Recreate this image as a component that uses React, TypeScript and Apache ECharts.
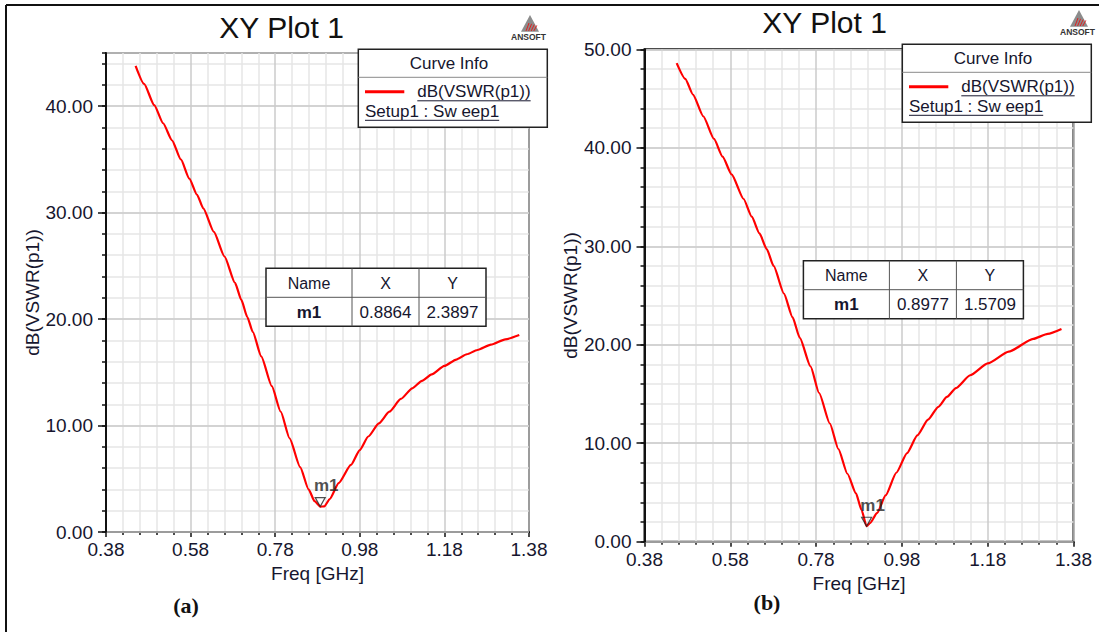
import React, { useEffect, useRef } from 'react';
import * as echarts from 'echarts';

// Sweep range and axis steps
const F_START = 0.38;
const F_END = 1.38;
const X_TICK_STEP = 0.2;
const X_MINOR_SPLIT = 5;
const Y_TICK_STEP = 10;
const Y_MINOR_STEP = 2;

const PANEL_TITLES = ['XY Plot 1', 'XY Plot 1'];
const PANEL_CAPTIONS = ['(a)', '(b)'];
const Y_MAX = [45, 50];
const Y_LABEL_VALUES = [
  [0, 10, 20, 30, 40],
  [0, 10, 20, 30, 40, 50],
];

const X_AXIS_NAME = 'Freq [GHz]';
const Y_AXIS_NAME = 'dB(VSWR(p1))';
const LEGEND_TITLE = 'Curve Info';
const TRACE_NAME = 'dB(VSWR(p1))';
const SWEEP_NAME = 'Setup1 : Sw eep1';
const TABLE_HEADERS = ['Name', 'X', 'Y'];
const MARKER_NAME = 'm1';

// Panel (a): dB(VSWR) vs frequency
const FREQ_A = [
  0.45, 0.47, 0.494, 0.515, 0.536, 0.557, 0.577, 0.595, 0.61, 0.635, 0.66, 0.685,
  0.7, 0.714, 0.727, 0.747, 0.772, 0.793, 0.814, 0.839, 0.859, 0.873, 0.8864, 0.896,
  0.909, 0.93, 0.959, 0.98, 1.0, 1.025, 1.05, 1.077, 1.104, 1.127, 1.15, 1.18,
  1.208, 1.233, 1.258, 1.29, 1.324, 1.357,
];
const DB_A = [
  43.8, 42.1, 40.1, 38.4, 36.8, 35.0, 33.2, 31.7, 30.4, 28.2, 25.9, 23.4,
  21.8, 20.2, 18.8, 16.5, 13.7, 11.3, 8.8, 6.1, 4.0, 2.9, 2.3897, 2.4,
  3.1, 4.6, 6.3, 7.7, 8.97, 10.2, 11.3, 12.5, 13.5, 14.2, 14.8, 15.6,
  16.2, 16.7, 17.1, 17.6, 18.1, 18.5,
];

// Panel (b): dB(VSWR) vs frequency
const FREQ_B = [
  0.455, 0.475, 0.493, 0.517, 0.542, 0.562, 0.583, 0.611, 0.63, 0.648, 0.665, 0.681,
  0.705, 0.725, 0.742, 0.767, 0.787, 0.812, 0.832, 0.853, 0.873, 0.886, 0.8977, 0.906,
  0.922, 0.942, 0.967, 0.992, 1.016, 1.041, 1.065, 1.085, 1.106, 1.139, 1.18, 1.229,
  1.286, 1.32, 1.352,
];
const DB_B = [
  48.6, 47.0, 45.4, 43.2, 40.9, 39.1, 37.3, 34.8, 33.0, 31.3, 29.7, 28.0,
  25.2, 22.8, 20.7, 17.8, 15.1, 12.0, 9.4, 6.9, 4.9, 3.2, 1.5709, 1.9,
  2.9, 4.7, 7.0, 9.0, 10.8, 12.4, 13.7, 14.7, 15.6, 16.9, 18.1, 19.3,
  20.6, 21.1, 21.6,
];

// Marker m1 readouts (freq, dB)
const MARKER_A = [0.8864, 2.3897];
const MARKER_B = [0.8977, 1.5709];

const FONT = '"Liberation Sans", Arial, sans-serif';
const SERIF = '"Liberation Serif", "Times New Roman", serif';
const INK = '#16162e';
const RED = '#ff0000';

// Layout of each panel in pixels
const PANELS = [
  {
    grid: { left: 106, top: 53, width: 423, height: 479 },
    title: [281.6, 27],
    caption: [186, 605],
    legend: [358.3, 49.3],
    table: [266, 268.3],
    logo: [530, 15],
    yNameGap: 62,
  },
  {
    grid: { left: 644.5, top: 49.3, width: 429, height: 492.4 },
    title: [824.6, 22],
    caption: [767, 602],
    legend: [902.3, 44.3],
    table: [803.4, 260.7],
    logo: [1079, 10],
    yNameGap: 55,
  },
];

function textWidth(text: string, font: string): number {
  const ctx = document.createElement('canvas').getContext('2d');
  if (!ctx) return text.length * 8;
  ctx.font = font;
  return ctx.measureText(text).width;
}

function label(text: string, x: number, y: number, size: number, opts: any = {}) {
  return {
    type: 'text',
    x,
    y,
    z: 20,
    silent: true,
    style: {
      text,
      fontSize: size,
      fontFamily: opts.family || FONT,
      fontWeight: opts.weight || 'normal',
      fill: opts.fill || INK,
      align: opts.align || 'center',
      verticalAlign: 'middle',
    },
  };
}

function legendBox(x0: number, y0: number) {
  const w = 189;
  const h = 78;
  const traceW = textWidth(TRACE_NAME, `17px ${FONT}`);
  const sweepW = textWidth(SWEEP_NAME, `17px ${FONT}`);
  return [
    { type: 'rect', z: 19, silent: true, shape: { x: x0, y: y0, width: w, height: h }, style: { fill: '#fff', stroke: '#222', lineWidth: 1.5 } },
    { type: 'line', z: 20, silent: true, shape: { x1: x0, y1: y0 + 28, x2: x0 + w, y2: y0 + 28 }, style: { stroke: '#8a8a8a', lineWidth: 1 } },
    label(LEGEND_TITLE, x0 + 90.7, y0 + 14, 17),
    { type: 'line', z: 20, silent: true, shape: { x1: x0 + 6.7, y1: y0 + 42.4, x2: x0 + 46, y2: y0 + 42.4 }, style: { stroke: RED, lineWidth: 3 } },
    label(TRACE_NAME, x0 + 59, y0 + 42, 17, { align: 'left' }),
    { type: 'line', z: 20, silent: true, shape: { x1: x0 + 59, y1: y0 + 51.5, x2: x0 + 59 + traceW, y2: y0 + 51.5 }, style: { stroke: INK, lineWidth: 1 } },
    label(SWEEP_NAME, x0 + 6.7, y0 + 62.4, 17, { align: 'left' }),
    { type: 'line', z: 20, silent: true, shape: { x1: x0 + 6.7, y1: y0 + 71, x2: x0 + 6.7 + sweepW, y2: y0 + 71 }, style: { stroke: INK, lineWidth: 1 } },
  ];
}

function markerTable(x0: number, y0: number, marker: number[]) {
  const cols = [0, 86, 153, 220];
  const h = 58;
  const mid = 29;
  const els: any[] = [
    { type: 'rect', z: 19, silent: true, shape: { x: x0, y: y0, width: cols[3], height: h }, style: { fill: '#fff', stroke: '#222', lineWidth: 1.5 } },
    { type: 'line', z: 20, silent: true, shape: { x1: x0, y1: y0 + mid, x2: x0 + cols[3], y2: y0 + mid }, style: { stroke: '#555', lineWidth: 1 } },
    { type: 'line', z: 20, silent: true, shape: { x1: x0 + cols[1], y1: y0, x2: x0 + cols[1], y2: y0 + h }, style: { stroke: '#555', lineWidth: 1 } },
    { type: 'line', z: 20, silent: true, shape: { x1: x0 + cols[2], y1: y0, x2: x0 + cols[2], y2: y0 + h }, style: { stroke: '#555', lineWidth: 1 } },
  ];
  const body = [MARKER_NAME, marker[0].toFixed(4), marker[1].toFixed(4)];
  for (let c = 0; c < 3; c++) {
    const cx = x0 + (cols[c] + cols[c + 1]) / 2;
    els.push(label(TABLE_HEADERS[c], cx, y0 + 15, 16));
    els.push(label(body[c], cx, y0 + 44, 17, { weight: c === 0 ? 'bold' : 'normal' }));
  }
  return els;
}

function logo(ax: number, ay: number) {
  const stripes = [0, 1, 2, 3].map((i) => ({
    type: 'line',
    z: 21,
    silent: true,
    shape: { x1: ax - 4 + i * 2.6, y1: ay + 16, x2: ax - 1 + i * 2.6, y2: ay + 8 + i * 0.8 },
    style: { stroke: '#e02020', lineWidth: 1 },
  }));
  return [
    { type: 'polygon', z: 20, silent: true, shape: { points: [[ax, ay], [ax - 9, ay + 16.7], [ax + 9, ay + 16.7]] }, style: { fill: '#8c8c8c' } },
    ...stripes,
    label('ANSOFT', ax - 1.5, ay + 21.5, 8.5, { weight: 'bold', fill: '#333' }),
  ];
}

function buildOption() {
  const span = +(F_END - F_START).toFixed(6);
  const datasets = [
    { freq: FREQ_A, db: DB_A, marker: MARKER_A },
    { freq: FREQ_B, db: DB_B, marker: MARKER_B },
  ];
  const grids: any[] = [];
  const xAxes: any[] = [];
  const yAxes: any[] = [];
  const series: any[] = [];
  let graphics: any[] = [
    { type: 'line', z: 30, silent: true, shape: { x1: 6, y1: 5, x2: 1099, y2: 5 }, style: { stroke: '#111', lineWidth: 2 } },
    { type: 'line', z: 30, silent: true, shape: { x1: 6, y1: 5, x2: 6, y2: 632 }, style: { stroke: '#111', lineWidth: 2 } },
  ];

  PANELS.forEach((p, i) => {
    const d = datasets[i];
    grids.push({ ...p.grid, show: true, borderColor: '#111', borderWidth: 2, backgroundColor: '#fff' });

    xAxes.push({
      type: 'value',
      gridIndex: i,
      min: 0,
      max: span,
      interval: X_TICK_STEP,
      name: X_AXIS_NAME,
      nameLocation: 'middle',
      nameGap: 25,
      nameTextStyle: { fontSize: 19, fontFamily: FONT, color: INK },
      axisLine: { show: true, onZero: false, lineStyle: { color: '#111', width: 2 } },
      axisTick: { show: true, length: 5, lineStyle: { color: '#111', width: 1.5 } },
      minorTick: { show: true, splitNumber: X_MINOR_SPLIT, length: 3, lineStyle: { color: '#111', width: 1.5 } },
      splitLine: { show: true, lineStyle: { color: '#cbcbcb', width: 1.5 } },
      minorSplitLine: { show: true, lineStyle: { color: '#e6e6e6', width: 1.5 } },
      axisLabel: {
        fontSize: 19,
        fontFamily: FONT,
        color: INK,
        margin: 8,
        formatter: (v: number) => (v + F_START).toFixed(2),
      },
    });

    // minor grid rows (every 2 dB)
    yAxes.push({
      type: 'value',
      gridIndex: i,
      min: 0,
      max: Y_MAX[i],
      interval: Y_MINOR_STEP,
      position: 'left',
      z: 0,
      axisLine: { show: false },
      axisTick: { show: true, length: 4, lineStyle: { color: '#111', width: 1.5 } },
      axisLabel: { show: false },
      splitLine: { show: true, lineStyle: { color: '#e6e6e6', width: 1.5 } },
    });
    // major rows with labels (every 10 dB)
    const labelValues = Y_LABEL_VALUES[i];
    yAxes.push({
      type: 'value',
      gridIndex: i,
      min: 0,
      max: Y_MAX[i],
      interval: Y_TICK_STEP,
      position: 'left',
      z: 1,
      name: Y_AXIS_NAME,
      nameLocation: 'middle',
      nameRotate: 90,
      nameGap: p.yNameGap,
      nameTextStyle: { fontSize: 19, fontFamily: FONT, color: INK },
      axisLine: { show: true, onZero: false, lineStyle: { color: '#111', width: 2 } },
      axisTick: { show: true, length: 8, customValues: labelValues, lineStyle: { color: '#111', width: 1.5 } },
      splitLine: { show: true, lineStyle: { color: '#cbcbcb', width: 1.5 } },
      axisLabel: {
        fontSize: 19,
        fontFamily: FONT,
        color: INK,
        margin: 13,
        customValues: labelValues,
        formatter: (v: number) => (labelValues.indexOf(v) >= 0 ? v.toFixed(2) : ''),
      },
    });

    const yIndex = i * 2 + 1;
    series.push({
      type: 'line',
      xAxisIndex: i,
      yAxisIndex: yIndex,
      data: d.freq.map((f, k) => [f - F_START, d.db[k]]),
      symbol: 'none',
      smooth: 0.2,
      smoothMonotone: 'x',
      lineStyle: { color: RED, width: 2.2 },
      z: 3,
      silent: true,
    });
    series.push({
      type: 'scatter',
      xAxisIndex: i,
      yAxisIndex: yIndex,
      data: [[d.marker[0] - F_START, d.marker[1]]],
      symbol: 'path://M0,0 L10,0 L5,9 Z',
      symbolSize: [10, 9],
      symbolOffset: [0, -4.5],
      itemStyle: { color: 'rgba(255,255,255,0)', borderColor: '#222', borderWidth: 1.2 },
      label: {
        show: true,
        formatter: MARKER_NAME,
        position: 'top',
        distance: 3,
        offset: [6, 0],
        fontSize: 17,
        fontWeight: 'bold',
        fontFamily: FONT,
        color: '#222',
      },
      z: 5,
      silent: true,
    });

    graphics = graphics.concat([
      label(PANEL_TITLES[i], p.title[0], p.title[1], 30, { fill: '#111' }),
      label(PANEL_CAPTIONS[i], p.caption[0], p.caption[1], 22, { family: SERIF, weight: 'bold', fill: '#111' }),
      ...legendBox(p.legend[0], p.legend[1]),
      ...markerTable(p.table[0], p.table[1], d.marker),
      ...logo(p.logo[0], p.logo[1]),
    ]);
  });

  return {
    animation: false,
    backgroundColor: '#fff',
    grid: grids,
    xAxis: xAxes,
    yAxis: yAxes,
    series,
    graphic: { elements: graphics },
  };
}

export default function App() {
  const ref = useRef<HTMLDivElement>(null);
  useEffect(() => {
    if (!ref.current) return;
    const chart = echarts.init(ref.current, undefined, { renderer: 'svg' });
    chart.setOption(buildOption() as any);
    return () => chart.dispose();
  }, []);
  return (
    <div
      ref={ref}
      style={{ position: 'fixed', left: 0, top: 0, width: 1099, height: 632, background: '#fff' }}
    />
  );
}
